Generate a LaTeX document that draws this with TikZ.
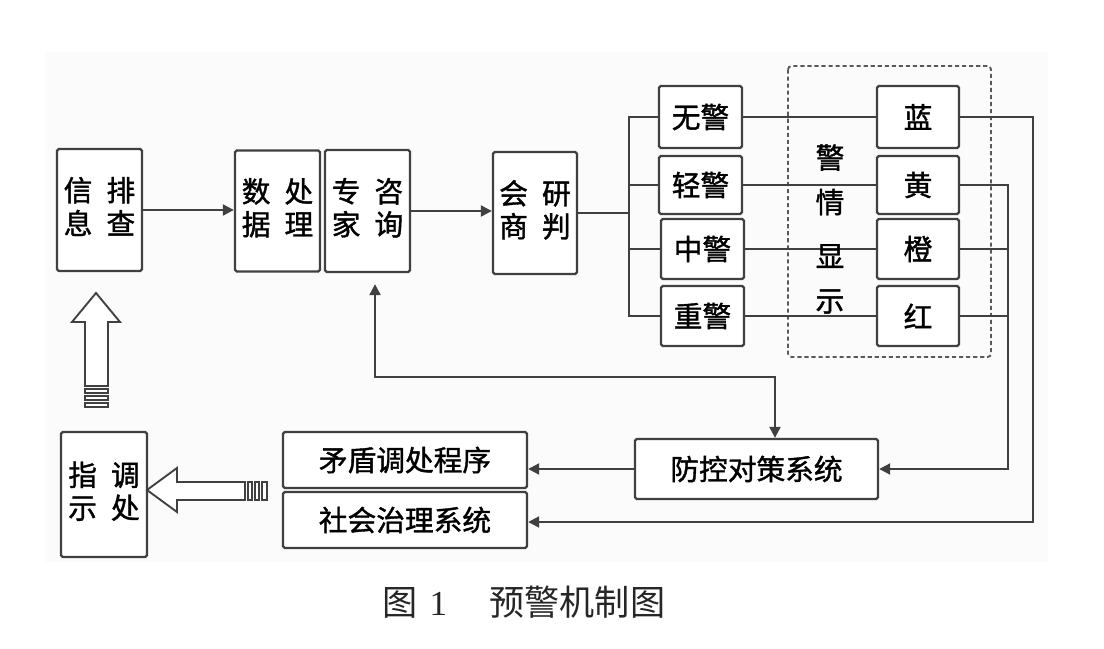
\documentclass[tikz,border=0pt]{standalone}
\usepackage{fontspec}
\setmainfont{Noto Sans CJK SC}
\newfontfamily\boldcjk{Noto Sans CJK SC}[FakeBold=1.3]
\newfontfamily\numfont{Liberation Serif}
\usetikzlibrary{arrows.meta}
\newcommand\bxfont{\boldcjk\fontsize{24.5pt}{25pt}\selectfont}
\newcommand\tcol[4]{\begin{tabular}{@{}c@{\hspace{12pt}}c@{}}#1&#3\\#2&#4\end{tabular}}
\begin{document}
\begin{tikzpicture}[x=0.03cm,y=-0.03cm,
  box/.style={draw=black!75, line width=2pt, fill=white, inner sep=0pt, rounded corners=1.5pt, font=\bxfont},
  ln/.style={draw=black!75, line width=1.8pt},
  arr/.style={ln, -{Triangle[length=0.33cm,width=0.33cm]}},
  arrb/.style={ln, {Triangle[length=0.33cm,width=0.33cm]}-{Triangle[length=0.33cm,width=0.33cm]}},
  hollow/.style={draw=black!75, line width=1.6pt, fill=white, line join=miter}
]
\useasboundingbox (0,0) rectangle (1104,648);
\fill[black!1.5] (45,52) rectangle (1048,562);

% dashed display group
\draw[draw=black!65, line width=1.6pt, dash pattern=on 3.5pt off 2.5pt, rounded corners=3pt] (788,66) rectangle (991,357);

% left column of boxes
\node[box, minimum width=2.55cm, minimum height=3.66cm] (xinxi) at (99.5,210) {\tcol{信}{息}{排}{查}};
\node[box, minimum width=2.55cm, minimum height=3.63cm] (shuju) at (277.5,211) {\tcol{数}{据}{处}{理}};
\node[box, minimum width=2.55cm, minimum height=3.66cm] (zhuanjia) at (367.5,211) {\tcol{专}{家}{咨}{询}};
\node[box, minimum width=2.52cm, minimum height=3.66cm] (huishang) at (535,213) {\tcol{会}{商}{研}{判}};

% warning levels
\node[box, minimum width=2.49cm, minimum height=1.86cm] (wu) at (700.5,117) {无警};
\node[box, minimum width=2.49cm, minimum height=1.74cm] (qingj) at (700.5,185) {轻警};
\node[box, minimum width=2.49cm, minimum height=1.80cm] (zhongj) at (702.5,249) {中警};
\node[box, minimum width=2.49cm, minimum height=1.80cm] (zhongjing) at (702.5,316) {重警};

% colours
\node[box, minimum width=2.46cm, minimum height=1.86cm] (lan) at (918,117) {蓝};
\node[box, minimum width=2.46cm, minimum height=1.74cm] (huang) at (918,185) {黄};
\node[box, minimum width=2.46cm, minimum height=1.80cm] (cheng) at (918,249) {橙};
\node[box, minimum width=2.46cm, minimum height=1.80cm] (hong) at (918,316) {红};

% bottom boxes
\node[box, minimum width=7.29cm, minimum height=1.80cm] (fangkong) at (756.5,469) {防控对策系统};
\node[box, minimum width=7.32cm, minimum height=1.68cm] (maodun) at (405,460) {矛盾调处程序};
\node[box, minimum width=7.32cm, minimum height=1.68cm] (shehui) at (405,520) {社会治理系统};
\node[box, minimum width=2.58cm, minimum height=3.75cm] (zhishi) at (104,494.5) {\tcol{指}{示}{调}{处}};

% connectors
\draw[arr] (xinxi.east) -- (xinxi.east -| shuju.west);
\draw[arr] (zhuanjia.east) -- (zhuanjia.east -| huishang.west);

\coordinate (bt) at (629,117);
\draw[ln] (wu.west) -- (wu.west -| bt) -- (zhongjing.west -| bt) -- (zhongjing.west);
\draw[ln] (qingj.west) -- (qingj.west -| bt);
\draw[ln] (zhongj.west) -- (zhongj.west -| bt);
\draw[ln] (huishang.east) -- (huishang.east -| bt);

\draw[ln] (wu.east) -- (lan.west);
\draw[ln] (qingj.east) -- (huang.west);
\draw[ln] (zhongj.east) -- (cheng.west);
\draw[ln] (zhongjing.east) -- (hong.west);

\node[font=\boldcjk\fontsize{24.5pt}{38pt}\selectfont, align=center, inner sep=0pt] (jq) at (830,229) {警\\情\\[8pt]显\\示};

\coordinate (ra) at (1033,522);
\coordinate (rb) at (1008,469);
\draw[arr] (lan.east) -| (ra) -- (ra -| shehui.east);
\draw[arr] (huang.east) -| (rb) -- (rb -| fangkong.east);
\draw[ln] (cheng.east) -- (cheng.east -| rb);
\draw[ln] (hong.east) -- (hong.east -| rb);

\draw[arr] (fangkong.west) -- (fangkong.west -| maodun.east);

\coordinate (m1) at (375,377);
\coordinate (m2) at (775,377);
\draw[arrb] ([yshift=-0.33cm]zhuanjia.south -| m1) -- (m1) -- (m2) -- (m2 |- fangkong.north);

% hollow striped arrows
\draw[hollow] (96,293) -- (120,322) -- (108,322) -- (108,386) -- (85,386) -- (85,322) -- (72,322) -- cycle;
\draw[hollow] (85,389) rectangle (108,393);
\draw[hollow] (85,396) rectangle (108,400);
\draw[hollow] (85,403) rectangle (108,407);

\draw[hollow] (147,490) -- (177,468) -- (177,482) -- (245,482) -- (245,500) -- (177,500) -- (177,512) -- cycle;
\draw[hollow] (248,482) rectangle (252,500);
\draw[hollow] (255,482) rectangle (259,500);
\draw[hollow] (262,482) rectangle (267,500);

% caption
\node[font=\fontsize{30pt}{30pt}\selectfont, text=black!85, inner sep=0pt] (cap) at (524,602) {图\hspace{10pt}{\numfont 1}\hspace{36pt}预警机制图};
\end{tikzpicture}
\end{document}
